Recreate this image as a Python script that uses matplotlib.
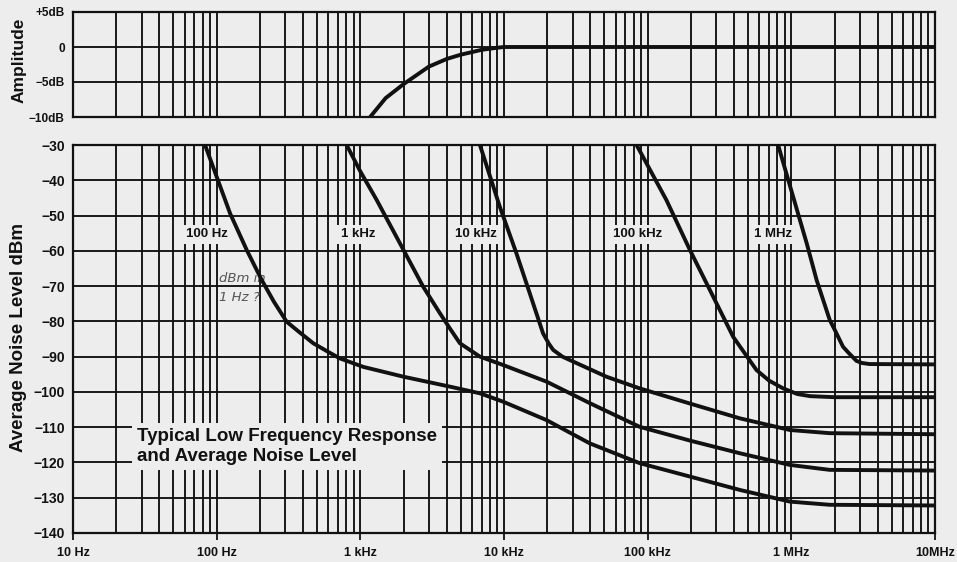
import matplotlib
matplotlib.use("Agg")
import matplotlib.pyplot as plt
from matplotlib.ticker import LogLocator, NullFormatter

# ---------------- data ----------------
amp_freq = [1170, 1500, 2000, 3000, 4000, 5000, 7000, 9000, 10000, 1e7]
amp_db = [-10, -7.3, -5.3, -2.8, -1.7, -1.1, -0.4, -0.1, 0, 0]

nA_freq = [83, 100, 124, 162, 206, 250, 307, 380, 470, 600, 721, 1047, 2000, 4200,
           6800, 9900, 19800, 39600, 88000, 197000, 439000, 977000, 1.85e6, 1e7]
nA_dbm = [-30, -39, -49.4, -59.8, -68.3, -74.4, -80.1, -83.2, -86.2, -88.7, -90.5, -92.9,
          -95.7, -98.5, -100.4, -102.8, -108, -114.6, -120.2, -124, -127.8, -131.1, -132, -132.2]

nB_freq = [803, 1000, 1300, 2000, 2740, 3580, 4200, 4930, 6800, 9900, 19800, 39600,
           88000, 197000, 439000, 977000, 1.85e6, 1e7]
nB_dbm = [-30, -37.5, -45.6, -59.8, -70.2, -77.7, -82, -86.2, -90, -92.4, -97.1, -103.2,
          -109.9, -113.8, -117.4, -120.7, -122.1, -122.3]

nC_freq = [6800, 9350, 12200, 15100, 18700, 20500, 22000, 25500, 30300, 51700, 88000, 197000,
           439000, 977000, 1.85e6, 1e7]
nC_dbm = [-30, -47.5, -60.7, -72, -83.4, -86.3, -88.1, -90, -91.4, -95.7, -99, -103.3,
          -107.5, -110.8, -111.7, -112]

nD_freq = [83700, 135000, 197000, 271000, 394000, 572000, 700000, 877000, 1.1e6, 1.35e6, 2e6, 1e7]
nD_dbm = [-30, -45.6, -59.8, -71.1, -84.4, -93.8, -96.8, -99, -100.6, -101.2, -101.5, -101.5]

nE_freq = [809000, 1.03e6, 1.28e6, 1.5e6, 1.85e6, 2.0e6, 2.29e6, 2.5e6, 2.84e6, 3.1e6, 3.5e6, 1e7]
nE_dbm = [-30, -44.7, -57.9, -68.3, -79.6, -82.3, -87.2, -88.9, -91.2, -91.8, -92.1, -92.2]

rbw_labels = ["100 Hz", "1 kHz", "10 kHz", "100 kHz", "1 MHz"]

x_ticks = [10, 100, 1e3, 1e4, 1e5, 1e6, 1e7]
x_ticklabels = ["10 Hz", "100 Hz", "1 kHz", "10 kHz", "100 kHz", "1 MHz", "10MHz"]

amp_ticks = [5, 0, -5, -10]
amp_ticklabels = ["+5dB", "0", "\u22125dB", "\u221210dB"]

noise_ticks = list(range(-30, -141, -10))
noise_ticklabels = ["\u2212%d" % (-v) for v in noise_ticks]

# ---------------- style ----------------
BG = "#ededed"
INK = "#111111"
FONT = ["Liberation Sans", "DejaVu Sans"]
plt.rcParams["font.family"] = FONT
plt.rcParams["font.weight"] = "bold"

W, H = 957, 562
fig = plt.figure(figsize=(W / 100, H / 100), dpi=100, facecolor=BG)

L, R = 73, 935
def axpos(top, bottom):
    return [L / W, 1 - bottom / H, (R - L) / W, (bottom - top) / H]

ax1 = fig.add_axes(axpos(12, 117), facecolor=BG)
ax2 = fig.add_axes(axpos(145, 533), facecolor=BG)

for ax in (ax1, ax2):
    ax.set_xscale("log")
    ax.set_xlim(10, 1e7)
    ax.xaxis.set_minor_locator(LogLocator(base=10, subs=range(2, 10), numticks=50))
    ax.xaxis.set_minor_formatter(NullFormatter())
    ax.grid(True, which="both", axis="x", color=INK, lw=1.35)
    ax.grid(True, which="major", axis="y", color=INK, lw=1.35)
    ax.set_axisbelow(True)
    for s in ax.spines.values():
        s.set_color(INK)
        s.set_linewidth(1.6)
    ax.tick_params(axis="y", length=0, pad=6, labelsize=10, colors=INK)
    ax.tick_params(axis="x", which="minor", length=0)

# top panel
ax1.set_ylim(-10, 5)
ax1.set_yticks(amp_ticks, amp_ticklabels)
ax1.tick_params(axis="y", labelsize=8.5)
ax1.set_xticks(x_ticks)
ax1.tick_params(axis="x", which="major", length=0, labelbottom=False)
ax1.plot(amp_freq, amp_db, color=INK, lw=2.8, solid_capstyle="butt")

# bottom panel
ax2.set_ylim(-140, -30)
ax2.set_yticks(noise_ticks, noise_ticklabels)
ax2.set_xticks(x_ticks, x_ticklabels)
ax2.tick_params(axis="x", which="major", length=5, width=1.3, pad=5, labelsize=9, colors=INK)

for fr, db in [(nA_freq, nA_dbm), (nB_freq, nB_dbm), (nC_freq, nC_dbm),
               (nD_freq, nD_dbm), (nE_freq, nE_dbm)]:
    ax2.plot(fr, db, color=INK, lw=2.8, solid_joinstyle="round", zorder=3)

label_anchor = [86, 962, 6350, 84700, 746000]
for fx, txt in zip(label_anchor, rbw_labels):
    ax2.text(fx, -55.3, txt, ha="center", va="center", fontsize=9.5, fontweight="bold",
             color=INK, zorder=2,
             bbox=dict(facecolor=BG, edgecolor="none", pad=2.5))

ax2.text(27.9, -115.5, "Typical Low Frequency Response\nand Average Noise Level",
         ha="left", va="center", fontsize=13.5, fontweight="bold", color=INK,
         linespacing=1.2, zorder=2,
         bbox=dict(facecolor=BG, edgecolor="none", pad=3.5))

ax2.text(104, -70.5, "dBm in\n1 Hz ?", ha="left", va="center", fontsize=9.5,
         fontweight="light", fontstyle="italic", color="#555555", family="DejaVu Sans",
         linespacing=1.6, zorder=2)

fig.text(19 / W, 1 - 60 / H, "Amplitude", rotation=90, ha="center", va="center",
         fontsize=12.5, fontweight="bold", color=INK)
fig.text(19 / W, 1 - 338 / H, "Average Noise Level dBm", rotation=90, ha="center",
         va="center", fontsize=13.5, fontweight="bold", color=INK)

fig.savefig("out.png", dpi=100, facecolor=BG)
